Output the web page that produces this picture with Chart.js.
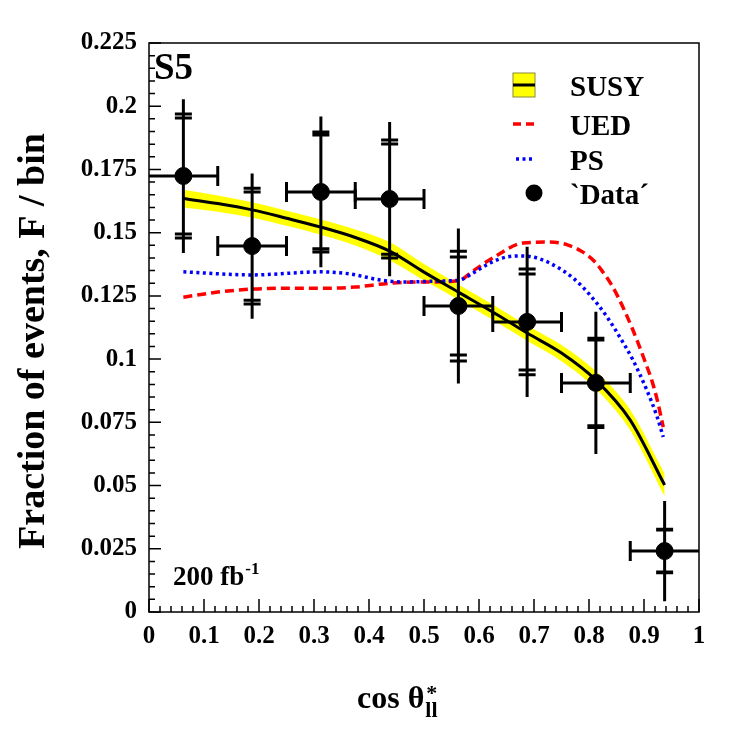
<!DOCTYPE html>
<html>
<head>
<meta charset="utf-8">
<script src="https://cdn.jsdelivr.net/npm/chart.js@4.4.1/dist/chart.umd.min.js"></script>
<style>
  html, body { margin: 0; padding: 0; background: #fff; }
  #wrap { width: 731px; height: 731px; }
</style>
</head>
<body>
<div id="wrap"><canvas id="myChart" width="731" height="731"></canvas></div>
<script>
// bins of cos theta*_ll
const binCenters = [0.0625, 0.1875, 0.3125, 0.4375, 0.5625, 0.6875, 0.8125, 0.9375];
const binHalfWidth = 0.0625;
// 'Data' points with two inner error marks and full error
const dataValues = [0.1724, 0.1447, 0.1661, 0.1633, 0.1210, 0.1147, 0.0906, 0.0241];
const errInner = [0.0229, 0.0214, 0.0225, 0.0218, 0.0194, 0.0190, 0.0170, 0.0083];
const errOuter = [0.0245, 0.0229, 0.0237, 0.0233, 0.0217, 0.0209, 0.0176, 0.0086];
const errTotal = [0.0304, 0.0287, 0.0298, 0.0305, 0.0306, 0.0297, 0.0281, 0.0198];

// SUSY prediction with band
const susyX = [0.0625, 0.125, 0.1875, 0.25, 0.3125, 0.375, 0.4375, 0.5, 0.5625, 0.625, 0.6875, 0.75, 0.8125, 0.875, 0.9375];
const susyY = [0.1635, 0.1615, 0.1590, 0.1557, 0.1522, 0.1481, 0.1427, 0.1344, 0.1265, 0.1186, 0.1103, 0.1024, 0.0917, 0.0759, 0.0502];
const susyErr = [0.0035, 0.0032, 0.0030, 0.0030, 0.0030, 0.0032, 0.0036, 0.0032, 0.0030, 0.0030, 0.0030, 0.0032, 0.0035, 0.0040, 0.0045];

// UED
const uedX = [0.0625, 0.125, 0.1875, 0.25, 0.3125, 0.375, 0.4375, 0.5, 0.5625, 0.59, 0.625, 0.68, 0.729, 0.762, 0.789, 0.811, 0.825, 0.842, 0.853, 0.865, 0.878, 0.889, 0.902, 0.915, 0.925, 0.935];
const uedY = [0.1245, 0.1265, 0.1277, 0.1280, 0.1280, 0.1285, 0.1300, 0.1305, 0.1310, 0.1350, 0.1400, 0.1459, 0.1463, 0.1451, 0.1423, 0.1384, 0.1345, 0.1290, 0.1245, 0.1190, 0.1125, 0.1065, 0.0990, 0.0910, 0.0830, 0.0731];

// PS
const psX = [0.0625, 0.1875, 0.3125, 0.365, 0.42, 0.46, 0.529, 0.565, 0.589, 0.620, 0.651, 0.680, 0.711, 0.742, 0.771, 0.802, 0.833, 0.856, 0.880, 0.905, 0.924, 0.935];
const psY = [0.1345, 0.1333, 0.1345, 0.1337, 0.1313, 0.1305, 0.1309, 0.1313, 0.1340, 0.1380, 0.1404, 0.1408, 0.1396, 0.1364, 0.1321, 0.1253, 0.1166, 0.1087, 0.0996, 0.0878, 0.0771, 0.0692];

const yTicks = { min: 0, max: 0.225, step: 0.025, minor: 0.005 };
const xTicks = { min: 0, max: 1, step: 0.1, minor: 0.02 };

const SERIF = '"Liberation Serif", "Times New Roman", serif';

const pts = (xs, ys) => xs.map((x, i) => ({ x: x, y: ys[i] }));

// frame, inner ticks, error bars, texts and legend
const decorPlugin = {
  id: 'decor',
  afterDatasetsDraw(chart) {
    const ctx = chart.ctx;
    const xs = chart.scales.x, ys = chart.scales.y;
    const a = chart.chartArea;
    ctx.save();

    // error bars
    ctx.strokeStyle = '#000';
    ctx.lineWidth = 3;
    binCenters.forEach((c, i) => {
      const px = xs.getPixelForValue(c);
      const py = ys.getPixelForValue(dataValues[i]);
      const x0 = xs.getPixelForValue(c - binHalfWidth);
      const x1 = xs.getPixelForValue(c + binHalfWidth);
      ctx.beginPath();
      ctx.moveTo(x0, py); ctx.lineTo(x1, py);
      ctx.moveTo(px, ys.getPixelForValue(dataValues[i] + errTotal[i]));
      ctx.lineTo(px, ys.getPixelForValue(dataValues[i] - errTotal[i]));
      // end caps of horizontal bars
      if (c - binHalfWidth > xTicks.min) { ctx.moveTo(x0, py - 10); ctx.lineTo(x0, py + 10); }
      if (c + binHalfWidth < xTicks.max) { ctx.moveTo(x1, py - 10); ctx.lineTo(x1, py + 10); }
      // double caps
      [errInner[i], errOuter[i]].forEach(e => {
        [1, -1].forEach(s => {
          const cy = ys.getPixelForValue(dataValues[i] + s * e);
          ctx.moveTo(px - 8.5, cy); ctx.lineTo(px + 8.5, cy);
        });
      });
      ctx.stroke();
    });

    // frame
    ctx.lineWidth = 1.5;
    ctx.strokeRect(a.left, a.top, a.right - a.left, a.bottom - a.top);

    // inner ticks
    ctx.beginPath();
    const ny = Math.round((yTicks.max - yTicks.min) / yTicks.minor);
    for (let k = 0; k <= ny; k++) {
      const v = yTicks.min + k * yTicks.minor;
      const len = (k % 5 === 0) ? 12 : 6;
      const py = ys.getPixelForValue(v);
      ctx.moveTo(a.left, py); ctx.lineTo(a.left + len, py);
    }
    const nx = Math.round((xTicks.max - xTicks.min) / xTicks.minor);
    for (let k = 0; k <= nx; k++) {
      const v = xTicks.min + k * xTicks.minor;
      const len = (k % 5 === 0) ? 13 : 6;
      const px = xs.getPixelForValue(v);
      ctx.moveTo(px, a.bottom); ctx.lineTo(px, a.bottom - len);
    }
    ctx.stroke();

    ctx.fillStyle = '#000';
    ctx.textBaseline = 'alphabetic';
    ctx.textAlign = 'left';

    // S5 label
    ctx.font = 'bold 37px ' + SERIF;
    ctx.fillText('S5', 154, 79);

    // luminosity
    ctx.font = 'bold 27px ' + SERIF;
    ctx.fillText('200 fb', 173, 585);
    const w = ctx.measureText('200 fb').width;
    ctx.font = 'bold 17px ' + SERIF;
    ctx.fillText('-1', 173 + w + 1, 574);

    // legend
    const lx = 513, lw = 22;
    ctx.fillStyle = '#ffff00';
    ctx.fillRect(lx, 73, lw, 24);
    ctx.strokeStyle = '#8a8a3a';
    ctx.lineWidth = 1;
    ctx.strokeRect(lx, 73, lw, 24);
    ctx.strokeStyle = '#000';
    ctx.lineWidth = 3;
    ctx.beginPath(); ctx.moveTo(lx, 85); ctx.lineTo(lx + lw, 85); ctx.stroke();

    ctx.lineWidth = 3.5;
    ctx.strokeStyle = '#ff0000';
    ctx.setLineDash([8, 5]);
    ctx.beginPath(); ctx.moveTo(lx, 124); ctx.lineTo(lx + lw, 124); ctx.stroke();
    ctx.strokeStyle = '#0000ff';
    ctx.setLineDash([3, 3.5]);
    ctx.beginPath(); ctx.moveTo(lx + 3, 159); ctx.lineTo(lx + lw, 159); ctx.stroke();
    ctx.setLineDash([]);
    ctx.fillStyle = '#000';
    ctx.beginPath(); ctx.arc(534, 193, 8.5, 0, Math.PI * 2); ctx.fill();

    ctx.font = 'bold 29px ' + SERIF;
    ctx.fillText('SUSY', 570, 96);
    ctx.fillText('UED', 570, 135);
    ctx.fillText('PS', 570, 170);
    ctx.fillText('`Data\u00b4', 570, 204);

    // axis titles
    ctx.font = 'bold 32px ' + SERIF;
    ctx.fillText('cos \u03b8', 357, 708);
    const cw = ctx.measureText('cos \u03b8').width;
    ctx.font = 'bold 22px ' + SERIF;
    ctx.fillText('*', 357 + cw + 2, 700);
    ctx.fillText('ll', 357 + cw + 1, 717);

    ctx.save();
    ctx.translate(44, 341);
    ctx.rotate(-Math.PI / 2);
    ctx.textAlign = 'center';
    ctx.font = 'bold 38px ' + SERIF;
    ctx.fillText('Fraction of events, F / bin', 0, 0);
    ctx.restore();

    ctx.restore();
  }
};

new Chart('myChart', {
  type: 'scatter',
  data: {
    datasets: [
      {
        label: '`Data\u00b4',
        data: pts(binCenters, dataValues),
        backgroundColor: '#000',
        borderColor: '#000',
        pointRadius: 8.5,
        showLine: false,
        order: 0
      },
      {
        label: 'SUSY',
        data: pts(susyX, susyY),
        showLine: true,
        borderColor: '#000',
        borderWidth: 3,
        pointRadius: 0,
        cubicInterpolationMode: 'monotone',
        order: 1
      },
      {
        label: 'PS',
        data: pts(psX, psY),
        showLine: true,
        borderColor: '#0000ff',
        borderWidth: 3.5,
        borderDash: [3, 3.5],
        pointRadius: 0,
        cubicInterpolationMode: 'monotone',
        order: 2
      },
      {
        label: 'UED',
        data: pts(uedX, uedY),
        showLine: true,
        borderColor: '#ff0000',
        borderWidth: 3.5,
        borderDash: [9, 5],
        pointRadius: 0,
        cubicInterpolationMode: 'monotone',
        order: 3
      },
      {
        label: 'SUSY band up',
        data: pts(susyX, susyY.map((v, i) => v + susyErr[i])),
        showLine: true,
        borderWidth: 0,
        borderColor: 'rgba(0,0,0,0)',
        backgroundColor: '#ffff00',
        fill: '+1',
        pointRadius: 0,
        cubicInterpolationMode: 'monotone',
        order: 4
      },
      {
        label: 'SUSY band down',
        data: pts(susyX, susyY.map((v, i) => v - susyErr[i])),
        showLine: true,
        borderWidth: 0,
        borderColor: 'rgba(0,0,0,0)',
        pointRadius: 0,
        fill: false,
        cubicInterpolationMode: 'monotone',
        order: 5
      }
    ]
  },
  options: {
    responsive: false,
    animation: false,
    layout: { padding: { top: 43, right: 32, left: 0, bottom: 0 } },
    plugins: {
      legend: { display: false },
      tooltip: { enabled: false }
    },
    scales: {
      x: {
        type: 'linear',
        min: xTicks.min,
        max: xTicks.max,
        grid: { display: false, drawTicks: false },
        border: { display: false },
        ticks: {
          stepSize: xTicks.step,
          autoSkip: false,
          maxRotation: 0,
          padding: 10,
          color: '#000',
          font: { family: SERIF, size: 25, weight: 'bold' },
          callback: v => String(+v.toFixed(2))
        },
        afterFit: s => { s.height = 119; }
      },
      y: {
        min: yTicks.min,
        max: yTicks.max,
        grid: { display: false, drawTicks: false },
        border: { display: false },
        ticks: {
          stepSize: yTicks.step,
          autoSkip: false,
          padding: 12,
          color: '#000',
          font: { family: SERIF, size: 25, weight: 'bold' },
          callback: v => String(+v.toFixed(3))
        },
        afterFit: s => { s.width = 149; }
      }
    }
  },
  plugins: [decorPlugin]
});
</script>
</body>
</html>
